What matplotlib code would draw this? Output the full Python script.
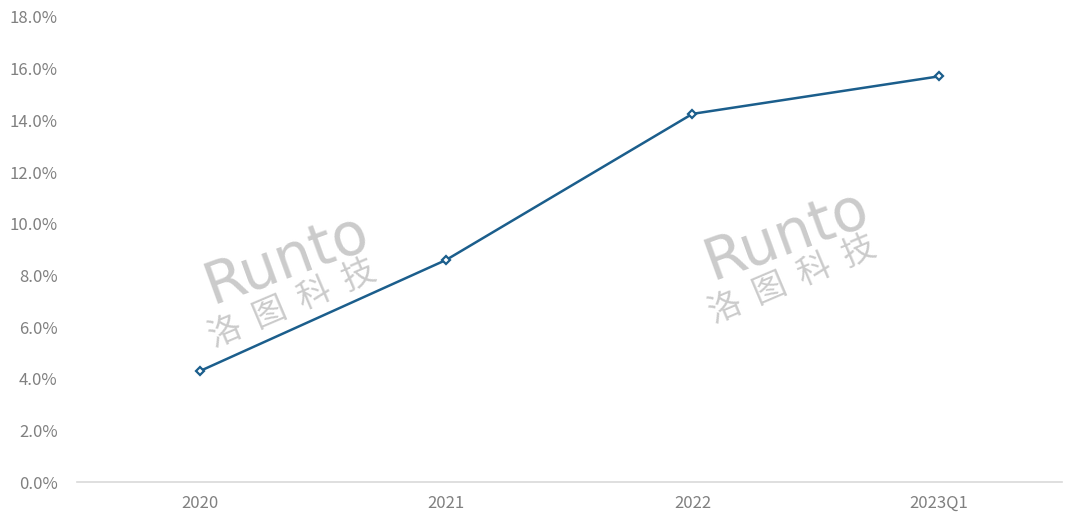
import numpy as np
import matplotlib.pyplot as plt
from matplotlib.ticker import FuncFormatter

plt.rcParams['font.family'] = ['Noto Sans CJK SC', 'DejaVu Sans']

# data
periods = ['2020', '2021', '2022', '2023Q1']
share = [4.3, 8.6, 14.25, 15.7]
yticks = [0, 2, 4, 6, 8, 10, 12, 14, 16, 18]

line_color = '#1b5e8c'
text_gray = '#808080'
wm_gray = '#c2c2c2'

fig = plt.figure(figsize=(10.8, 5.24), dpi=100)
ax = fig.add_axes([0.0713, 0.080, 0.9117, 0.8876])

x = np.arange(len(periods))
ax.plot(x, share, color=line_color, lw=1.8, marker='D', ms=4.5,
        mfc='white', mec=line_color, mew=1.6, zorder=3)

ax.set_xlim(-0.5, len(periods) - 0.5)
ax.set_ylim(0, 18)
ax.set_xticks(x)
ax.set_xticklabels(periods)
ax.set_yticks(yticks)
ax.yaxis.set_major_formatter(FuncFormatter(lambda v, p: '%.1f%%' % v))

for s in ['top', 'right', 'left']:
    ax.spines[s].set_visible(False)
ax.spines['bottom'].set_color('#d9d9d9')
ax.spines['bottom'].set_linewidth(1.2)
ax.tick_params(axis='both', length=0, labelsize=12, colors=text_gray)
ax.tick_params(axis='x', pad=9)
ax.tick_params(axis='y', pad=14)

# watermarks
for wx, wy in [(0.265, 0.505), (0.728, 0.551)]:
    fig.text(wx, wy, 'Runto', fontsize=42, color=wm_gray, alpha=0.85,
             rotation=20, ha='center', va='center', family='DejaVu Sans',
             zorder=0)
    fig.text(wx + 0.006, wy - 0.085, '洛  图  科  技', fontsize=24, color=wm_gray,
             alpha=0.85, rotation=23, ha='center', va='center',
             fontweight='medium', zorder=0)

fig.savefig('out.png', dpi=100)
